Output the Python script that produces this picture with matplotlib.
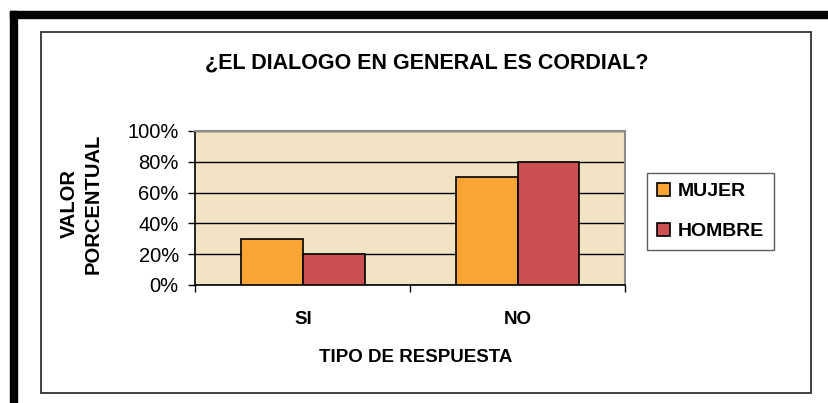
import numpy as np
import matplotlib.pyplot as plt
from matplotlib.patches import Rectangle, Patch

# data
categorias = ['SI', 'NO']
mujer = [0.30, 0.70]
hombre = [0.20, 0.80]
series = ['MUJER', 'HOMBRE']
colores = ['#F9A533', '#CC4F52']
yticks = [0, 0.2, 0.4, 0.6, 0.8, 1.0]

plt.rcParams['font.family'] = ['Liberation Sans', 'DejaVu Sans']

W, H = 829, 403
fig = plt.figure(figsize=(W / 100, H / 100), dpi=100)

def px(x0, y0, x1, y1):
    # pixel box (top-left origin) -> figure fraction
    return [x0 / W, 1 - y1 / H, (x1 - x0) / W, (y1 - y0) / H]

# outer thick black border (top + left) and inner chart frame
fig.patches.append(Rectangle((10 / W, 1 - 18 / H), 819 / W, 7 / H, transform=fig.transFigure,
                             color='black', zorder=0))
fig.patches.append(Rectangle((10 / W, 0), 7 / W, 1 - 11 / H, transform=fig.transFigure,
                             color='black', zorder=0))
fig.patches.append(Rectangle((41 / W, 1 - 393 / H), (811 - 41) / W, (393 - 32) / H,
                             transform=fig.transFigure, fill=False, edgecolor='#333333',
                             linewidth=1.3, zorder=0))

ax = fig.add_axes(px(195.5, 131, 625, 285))
ax.set_facecolor('#F1E3C4')

x = np.arange(len(categorias))
w = 0.288
ax.bar(x - w / 2, mujer, w, color=colores[0], edgecolor='black', linewidth=1.2, zorder=3)
ax.bar(x + w / 2, hombre, w, color=colores[1], edgecolor='black', linewidth=1.2, zorder=3)

ax.set_xlim(-0.5, 1.5)
ax.set_ylim(0, 1)
ax.set_yticks(yticks)
ax.set_yticklabels([f'{int(v * 100)}%' for v in yticks], fontsize=14.5)
ax.yaxis.grid(True, color='black', linewidth=1.0, zorder=1)
ax.set_axisbelow(True)

ax.set_xticks(x)
ax.set_xticklabels(categorias, fontsize=13.5, fontweight='bold')
ax.tick_params(axis='x', length=0, pad=19)
ax.set_xticks([-0.5, 0.5, 1.5], minor=True)
ax.tick_params(axis='x', which='minor', length=5, width=1, direction='out')
ax.tick_params(axis='y', length=5, width=1, direction='out', pad=7)

for s in ['left', 'bottom']:
    ax.spines[s].set_color('black')
    ax.spines[s].set_linewidth(1.2)
for s in ['top', 'right']:
    ax.spines[s].set_color('#8C8C8C')
    ax.spines[s].set_linewidth(1.5)

fig.text(427 / W, 1 - 63 / H, '¿EL DIALOGO EN GENERAL ES CORDIAL?', ha='center', va='center',
         fontsize=15.5, fontweight='bold')
fig.text(81 / W, 1 - 204 / H, 'VALOR\nPORCENTUAL', ha='center', va='center', rotation=90,
         fontsize=14.5, fontweight='bold', linespacing=1.3)
fig.text(416 / W, 1 - 358 / H, 'TIPO DE RESPUESTA', ha='center', va='center',
         fontsize=13.5, fontweight='bold')

handles = [Patch(facecolor=c, edgecolor='black', linewidth=1.2) for c in colores]
leg = fig.legend(handles, series, loc='upper left', bbox_to_anchor=(647 / W, 1 - 173 / H),
                 frameon=True, fancybox=False, edgecolor='#333333', prop={'weight': 'bold', 'size': 14},
                 handlelength=0.67, handleheight=0.67, handletextpad=0.4, labelspacing=1.15,
                 borderpad=0.5, borderaxespad=0)
leg.get_frame().set_linewidth(1.0)

fig.savefig('out.png', dpi=100)
